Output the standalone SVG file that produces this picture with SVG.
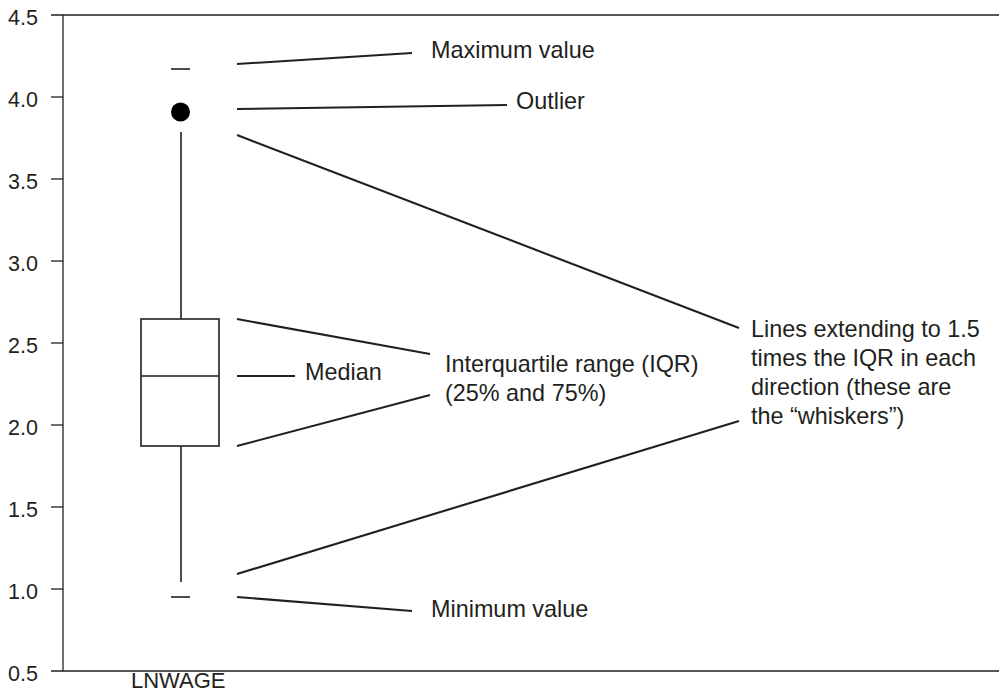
<svg xmlns="http://www.w3.org/2000/svg" width="999" height="692" viewBox="0 0 999 692">
<style>
.ax{stroke:#231f20;stroke-width:1.3;fill:none}
.bx{stroke:#231f20;stroke-width:1.6;fill:#fff}
.ln{stroke:#231f20;stroke-width:1.6;fill:none}
.ld{stroke:#231f20;stroke-width:2.1;fill:none}
.tk{font-family:"Liberation Sans",Arial,sans-serif;font-size:21.5px;fill:#231f20;text-anchor:end}
.lb{font-family:"Liberation Sans",Arial,sans-serif;font-size:23.4px;fill:#231f20}
</style>
<rect width="999" height="692" fill="#fff"/>
<g id="axes">
<line class="ax" x1="51" y1="15" x2="999" y2="15"/>
<line class="ax" x1="51" y1="671" x2="999" y2="671"/>
<line class="ax" x1="63" y1="15" x2="63" y2="671"/>
<line class="ax" x1="51" y1="97" x2="63" y2="97"/>
<line class="ax" x1="51" y1="179" x2="63" y2="179"/>
<line class="ax" x1="51" y1="261" x2="63" y2="261"/>
<line class="ax" x1="51" y1="343" x2="63" y2="343"/>
<line class="ax" x1="51" y1="425" x2="63" y2="425"/>
<line class="ax" x1="51" y1="507" x2="63" y2="507"/>
<line class="ax" x1="51" y1="589" x2="63" y2="589"/>
<text class="tk" x="38" y="25">4.5</text>
<text class="tk" x="38" y="107">4.0</text>
<text class="tk" x="38" y="189">3.5</text>
<text class="tk" x="38" y="271">3.0</text>
<text class="tk" x="38" y="353">2.5</text>
<text class="tk" x="38" y="435">2.0</text>
<text class="tk" x="38" y="517">1.5</text>
<text class="tk" x="38" y="599">1.0</text>
<text class="tk" x="38" y="681">0.5</text>
<text class="lb" x="131" y="688" style="font-size:22px">LNWAGE</text>
</g>
<g id="boxplot">
<line class="ln" x1="171" y1="69" x2="190" y2="69"/>
<circle cx="180.5" cy="112" r="9.5" fill="#000"/>
<line class="ln" x1="181" y1="132" x2="181" y2="319"/>
<rect class="bx" x="141" y="319" width="78" height="127"/>
<line class="ln" x1="141" y1="376" x2="219" y2="376"/>
<line class="ln" x1="181" y1="446" x2="181" y2="582"/>
<line class="ln" x1="171" y1="597" x2="190" y2="597"/>
</g>
<g id="connectors">
<line class="ld" x1="237" y1="64" x2="412" y2="53"/>
<line class="ld" x1="237" y1="109" x2="507" y2="105"/>
<line class="ld" x1="237" y1="135" x2="739" y2="328"/>
<line class="ld" x1="237" y1="319" x2="430" y2="354"/>
<line class="ld" x1="237" y1="376" x2="295" y2="376"/>
<line class="ld" x1="237" y1="446" x2="430" y2="395"/>
<line class="ld" x1="237" y1="574" x2="739" y2="421"/>
<line class="ld" x1="237" y1="597" x2="412" y2="611"/>
</g>
<g id="label-max"><text class="lb" x="431" y="57.5">Maximum value</text></g>
<g id="label-outlier"><text class="lb" x="516" y="109">Outlier</text></g>
<g id="label-median"><text class="lb" x="305" y="380">Median</text></g>
<g id="label-iqr"><text class="lb" x="445" y="372">Interquartile range (IQR)</text><text class="lb" x="445" y="401">(25% and 75%)</text></g>
<g id="label-whiskers"><text class="lb" x="751" y="337">Lines extending to 1.5</text><text class="lb" x="751" y="366">times the IQR in each</text><text class="lb" x="751" y="395">direction (these are</text><text class="lb" x="751" y="424">the “whiskers”)</text></g>
<g id="label-min"><text class="lb" x="431" y="617">Minimum value</text></g>
</svg>
